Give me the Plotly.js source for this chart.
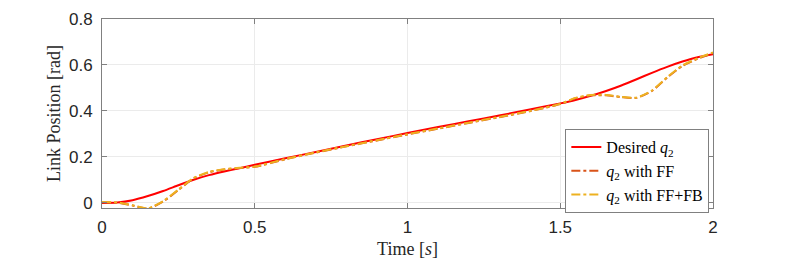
<!DOCTYPE html>
<html>
<head>
<meta charset="utf-8">
<script src="https://cdn.plot.ly/plotly-3.0.1.min.js"></script>
<style>
  html, body { margin: 0; padding: 0; background: #fff; }
  #graph { width: 789px; height: 259px; }
</style>
</head>
<body>
<div id="graph"></div>
<script>
// time samples [s]
const timeData = [0, 0.05, 0.1, 0.15, 0.2, 0.25, 0.3, 0.35, 0.4, 0.45, 0.5, 0.6, 0.7, 0.8, 0.9, 1.0,
    1.1, 1.2, 1.3, 1.4, 1.5, 1.55, 1.6, 1.65, 1.7, 1.75, 1.8, 1.85, 1.9, 1.95, 2.0];

// link position [rad]
const desiredQ2 = [0, 0.002, 0.012, 0.03, 0.052, 0.077, 0.101, 0.121, 0.137, 0.151, 0.166, 0.194,
    0.222, 0.25, 0.277, 0.304, 0.33, 0.355, 0.38, 0.406, 0.433, 0.448, 0.466, 0.487, 0.511, 0.538,
    0.566, 0.592, 0.615, 0.634, 0.647];

const q2WithFF = [0.003, 0.001, -0.011, -0.025, 0.006, 0.056, 0.107, 0.133, 0.145, 0.152, 0.157,
    0.19, 0.219, 0.246, 0.272, 0.298, 0.323, 0.348, 0.373, 0.399, 0.43, 0.455, 0.468, 0.468, 0.46,
    0.457, 0.487, 0.545, 0.596, 0.627, 0.652];

const q2WithFFFB = [0.004, 0.002, -0.01, -0.024, 0.008, 0.058, 0.109, 0.135, 0.147, 0.153, 0.158,
    0.191, 0.22, 0.247, 0.273, 0.299, 0.324, 0.349, 0.374, 0.4, 0.431, 0.457, 0.47, 0.47, 0.461,
    0.458, 0.489, 0.547, 0.598, 0.629, 0.655];

const yTicks = [0, 0.2, 0.4, 0.6, 0.8];
const yTickText = ['0', '0.2', '0.4', '0.6', '0.8'];

const serif = '"Liberation Serif", "DejaVu Serif", serif';
const sans = '"Liberation Sans", Arial, sans-serif';

function drawGraph() {
    const desiredTrace = {
        x: timeData,
        y: desiredQ2,
        mode: 'lines',
        name: 'Desired <i>q</i><sub>2</sub>',
        line: {color: '#ff0000', width: 2, shape: 'spline', smoothing: 0.6},
    };

    const ffTrace = {
        x: timeData,
        y: q2WithFF,
        mode: 'lines',
        name: '<i>q</i><sub>2</sub> with FF',
        line: {color: '#d95319', width: 2, dash: 'dashdot', shape: 'spline', smoothing: 0.6},
    };

    const fffbTrace = {
        x: timeData,
        y: q2WithFFFB,
        mode: 'lines',
        name: '<i>q</i><sub>2</sub> with FF+FB',
        line: {color: '#edb120', width: 2, dash: 'dashdot', shape: 'spline', smoothing: 0.6},
    };

    const axisStyle = {
        showline: true,
        mirror: 'ticks',
        linecolor: '#808080',
        linewidth: 1,
        ticks: 'inside',
        ticklen: 5,
        tickcolor: '#808080',
        showgrid: true,
        gridcolor: '#ebebeb',
        zeroline: false,
        tickfont: {family: sans, size: 17, color: '#262626'},
    };

    const layout = {
        width: 789,
        height: 259,
        margin: {l: 102, r: 76, t: 19, b: 51},
        paper_bgcolor: '#ffffff',
        plot_bgcolor: '#ffffff',
        xaxis: Object.assign({}, axisStyle, {
            range: [0, 2],
            dtick: 0.5,
            ticklabelstandoff: 4,
            title: {text: 'Time [<i>s</i>]', font: {family: serif, size: 18, color: '#262626'}, standoff: 6},
        }),
        yaxis: Object.assign({}, axisStyle, {
            range: [-0.022, 0.8],
            tickvals: yTicks,
            ticktext: yTickText,
            ticklabelstandoff: 5,
            title: {text: 'Link Position [rad]', font: {family: serif, size: 18, color: '#262626'}, standoff: 3},
        }),
        legend: {
            x: 0.994,
            y: 0.418,
            xanchor: 'right',
            yanchor: 'top',
            bgcolor: '#ffffff',
            bordercolor: '#808080',
            borderwidth: 1,
            font: {family: serif, size: 16, color: '#000000'},
            tracegroupgap: 0,
            itemwidth: 30,
        },
        showlegend: true,
    };

    const config = {displayModeBar: false, staticPlot: true};

    Plotly.newPlot('graph', [desiredTrace, ffTrace, fffbTrace], layout, config);
}

drawGraph();
</script>
</body>
</html>
